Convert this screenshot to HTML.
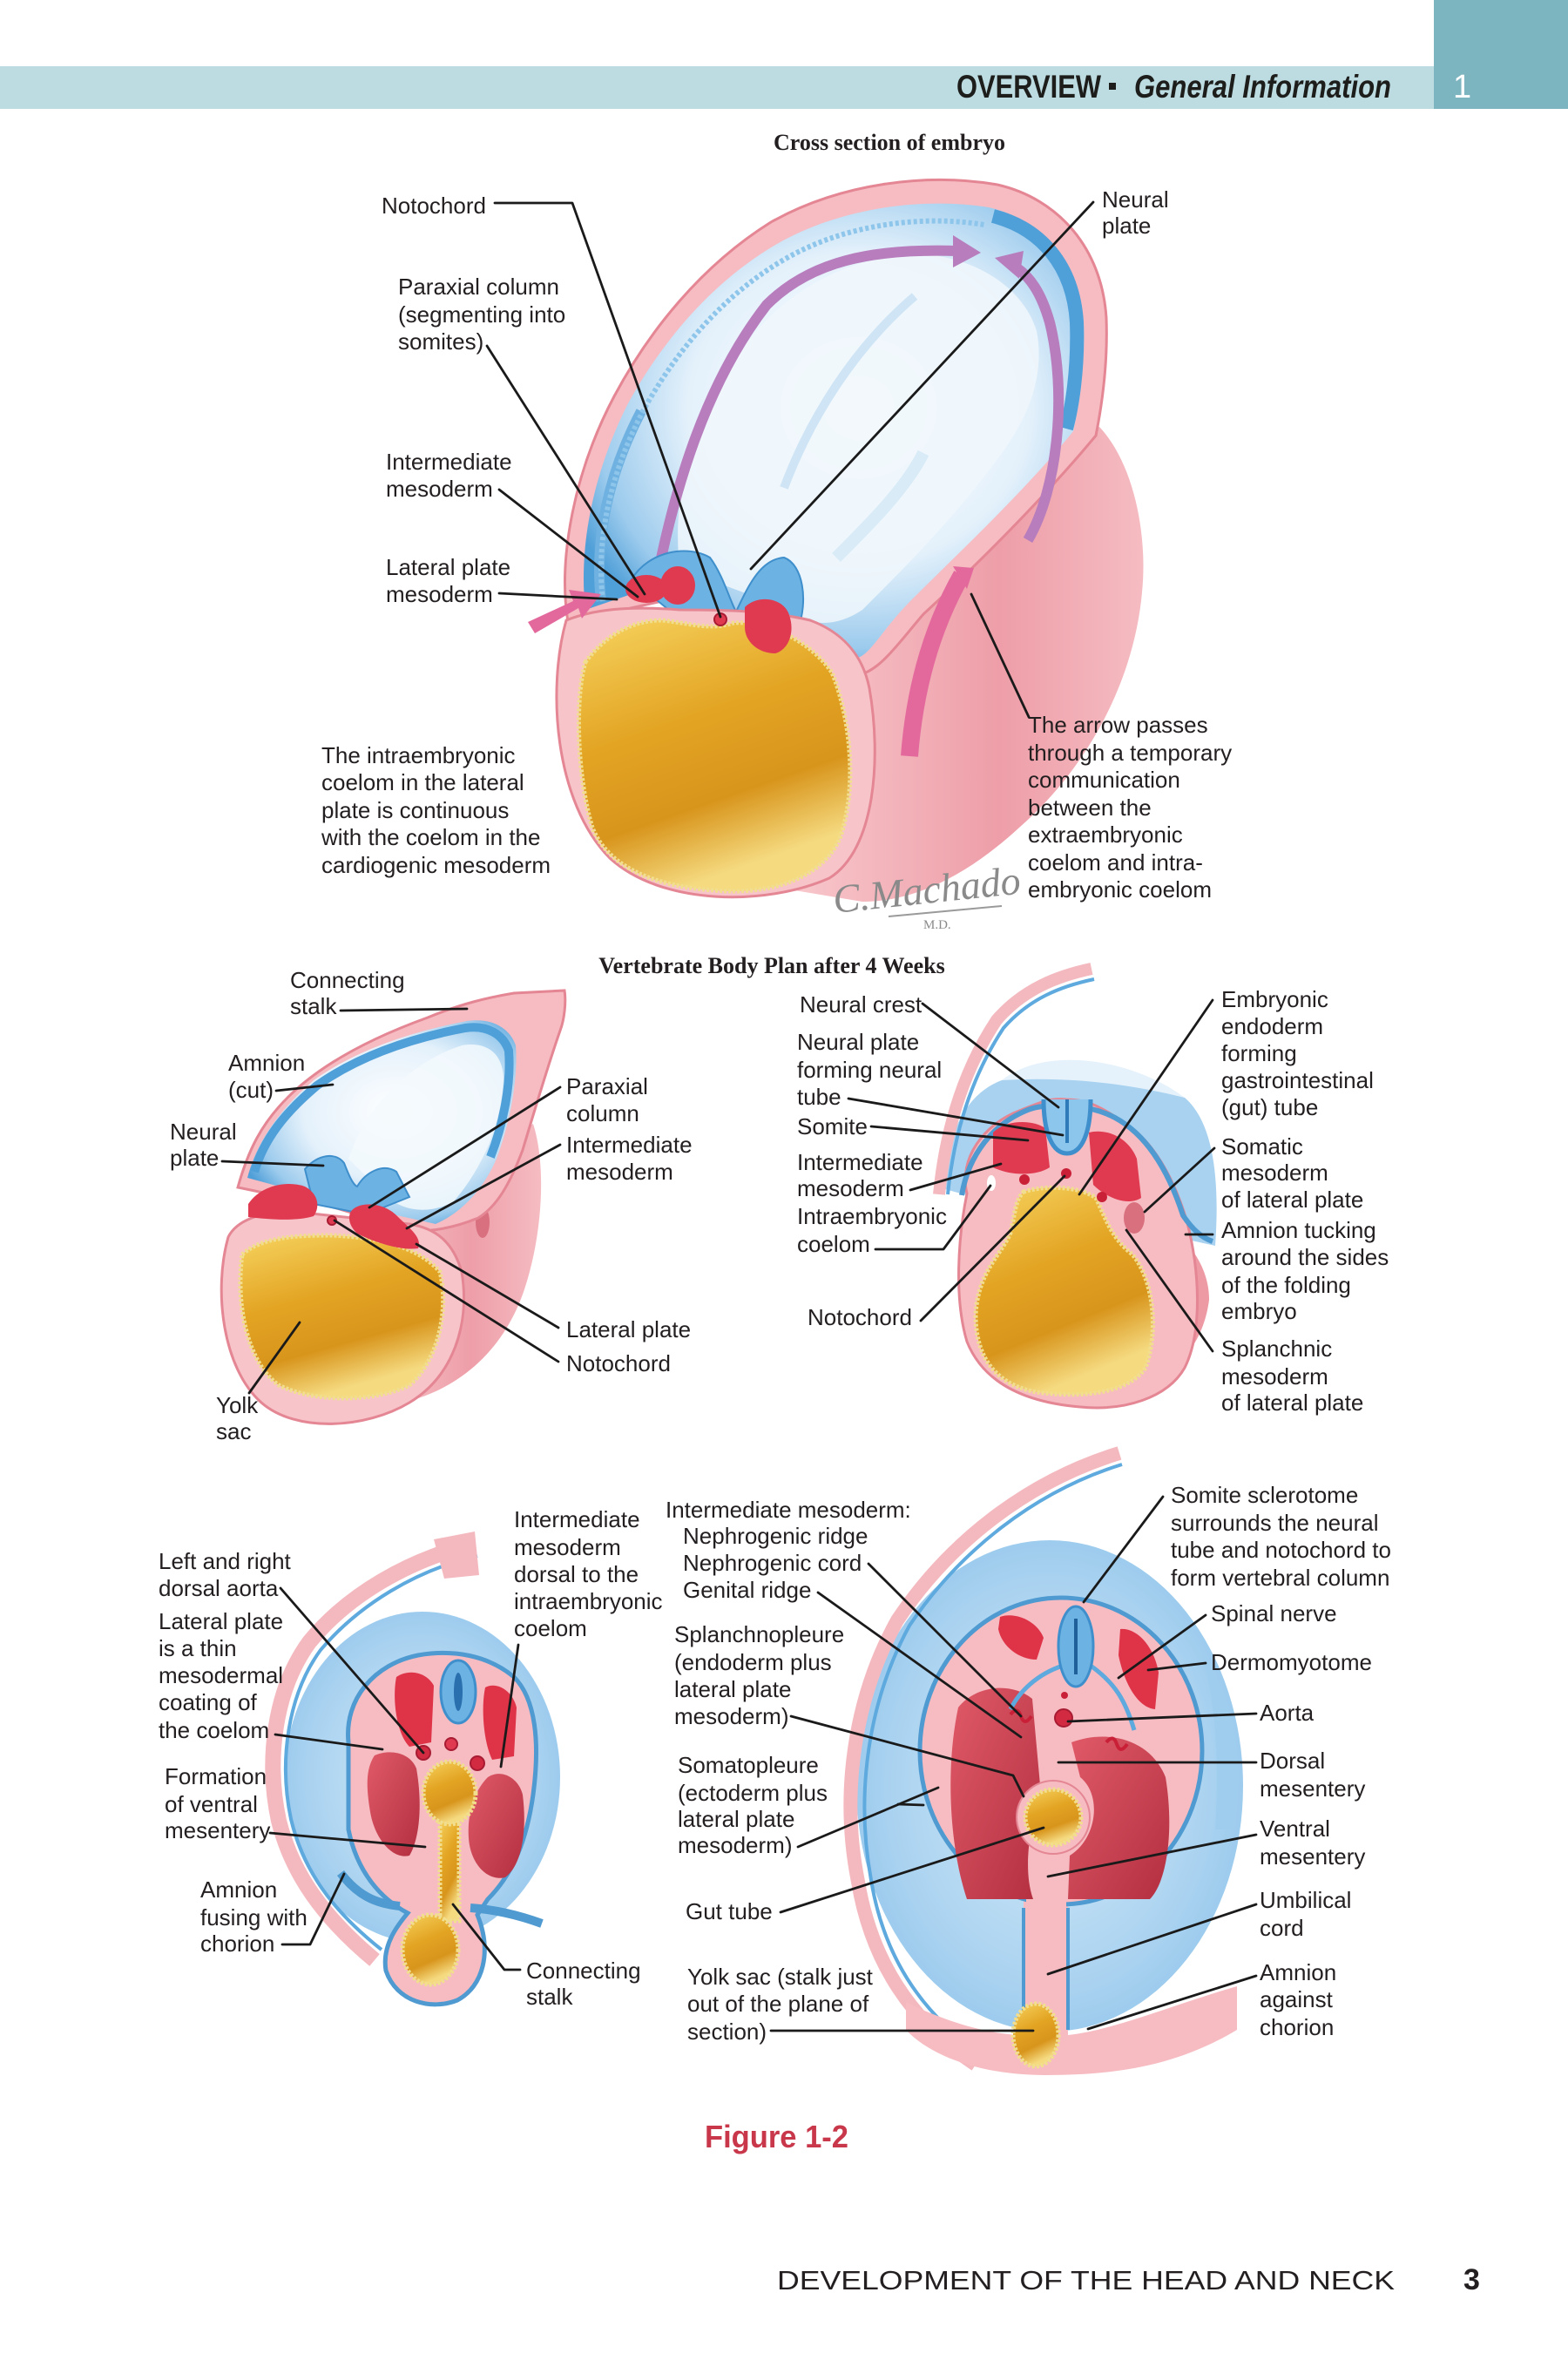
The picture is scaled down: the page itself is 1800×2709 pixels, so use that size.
<!DOCTYPE html>
<html><head><meta charset="utf-8">
<style>
html,body{margin:0;padding:0;background:#fff}
svg{display:block}
text{font-family:"Liberation Sans",sans-serif}
.l{font-size:26px;fill:#231f20}
.ln{stroke:#1a1a1a;stroke-width:2.8;fill:none;stroke-linejoin:round;stroke-linecap:round}
.pk{fill:#f6bcc2;stroke:#e48693;stroke-width:3}
.rd{fill:#e03a50}
.yk{fill:url(#yolk);stroke:#f1de8e;stroke-width:5;stroke-dasharray:3 2}
</style></head><body>
<svg width="1800" height="2709" viewBox="0 0 1800 2709" xmlns="http://www.w3.org/2000/svg">
<defs>
<linearGradient id="yolk" x1="0" y1="0" x2="0.35" y2="1">
<stop offset="0" stop-color="#f6d35f"/><stop offset="0.45" stop-color="#e3a423"/><stop offset="0.75" stop-color="#d8951c"/><stop offset="1" stop-color="#f5da80"/>
</linearGradient>
<radialGradient id="blueHood" cx="0.55" cy="0.45" r="0.62">
<stop offset="0" stop-color="#ffffff"/><stop offset="0.55" stop-color="#e4f1fb"/><stop offset="0.85" stop-color="#9ccbed"/><stop offset="1" stop-color="#4f9fd8"/>
</radialGradient>
<linearGradient id="pinkCyl" x1="0" y1="0" x2="1" y2="0">
<stop offset="0" stop-color="#f8c9cd"/><stop offset="0.6" stop-color="#ee9ea8"/><stop offset="1" stop-color="#f5bcc2"/>
</linearGradient>
<linearGradient id="redCav" x1="0" y1="0" x2="1" y2="1">
<stop offset="0" stop-color="#e05a68"/><stop offset="1" stop-color="#b32f40"/>
</linearGradient>
<radialGradient id="blueWash" cx="0.5" cy="0.5" r="0.6">
<stop offset="0" stop-color="#d4eaf8"/><stop offset="0.7" stop-color="#a9d2f0"/><stop offset="1" stop-color="#8fc3ea"/>
</radialGradient>
</defs>

<!-- HEADER -->
<rect x="0" y="76" width="1646" height="49" fill="#bcdce1"/>
<rect x="1646" y="0" width="154" height="125" fill="#7cb4c0"/>
<text x="1098" y="112" font-size="37" font-weight="bold" fill="#1d1d1b" textLength="166" lengthAdjust="spacingAndGlyphs">OVERVIEW</text>
<rect x="1273" y="95" width="8" height="8" fill="#1d1d1b"/>
<text x="1302" y="112" font-size="37" font-weight="bold" font-style="italic" fill="#1d1d1b" textLength="295" lengthAdjust="spacingAndGlyphs">General Information</text>
<text x="1668" y="112" font-size="38" fill="#ffffff">1</text>

<text x="1021" y="172" text-anchor="middle" font-weight="bold" font-size="26" fill="#231f20" style="font-family:'Liberation Serif',serif">Cross section of embryo</text>

<!-- ============ TOP ILLUSTRATION ============ -->
<path d="M900,700 C1000,650 1150,560 1262,490 C1300,530 1318,610 1311,680 C1302,780 1250,880 1170,950 C1110,1005 1050,1035 990,1035 L900,1020 Z" fill="url(#pinkCyl)"/>
<path d="M652,714 C640,640 660,540 705,455 C745,380 805,305 885,255 C965,210 1065,198 1145,212 C1215,228 1265,285 1270,365 C1272,420 1264,470 1258,500 C1200,570 1120,650 1060,705 C1030,740 1010,770 985,775 C955,780 930,760 905,735 L850,720 L760,690 Z" class="pk"/>
<path d="M672,700 C664,630 680,545 720,465 C758,395 815,325 892,280 C965,238 1060,226 1135,238 C1195,252 1240,300 1244,370 C1246,425 1238,470 1232,495 C1180,560 1100,635 1045,690 C1015,720 1000,750 985,755 C965,758 950,745 930,728 L850,700 L760,670 Z" fill="url(#blueHood)"/>
<path d="M1140,248 C1195,262 1232,305 1236,370 C1238,425 1230,470 1224,492" fill="none" stroke="#4f9fd8" stroke-width="16"/>
<path d="M690,690 C682,620 698,545 736,472" fill="none" stroke="#6fb1e0" stroke-width="12"/>
<path d="M692,690 C684,620 700,545 738,472 C775,405 828,340 900,298 C968,258 1058,246 1130,258" fill="none" stroke="#8ec5ea" stroke-width="6" stroke-dasharray="4 3"/>
<path d="M780,650 C770,560 800,470 860,390 C910,325 990,290 1060,292 C1120,296 1175,330 1190,380 C1200,430 1180,480 1150,520 C1100,590 1040,650 990,700 C960,720 930,720 900,700 C860,680 820,670 780,650 Z" fill="#f0f7fc" opacity="0.85"/>
<path d="M900,560 C930,480 980,400 1050,340" stroke="#cfe5f5" stroke-width="10" fill="none"/>
<path d="M960,640 C1000,600 1040,560 1060,520" stroke="#d8ebf7" stroke-width="14" fill="none"/>
<!-- purple arrows -->
<path d="M755,660 C775,560 810,440 880,350 C930,300 1000,285 1098,288" stroke="#b77dbd" stroke-width="12" fill="none"/>
<polygon points="1094,270 1126,290 1094,307" fill="#b77dbd"/>
<path d="M1180,620 C1215,560 1225,450 1205,370 C1195,335 1182,318 1168,308" stroke="#b77dbd" stroke-width="12" fill="none"/>
<polygon points="1142,296 1175,288 1170,320" fill="#b77dbd"/>
<!-- neural plate ridge -->
<path d="M725,665 C745,632 790,625 815,640 C830,660 838,690 845,702 C858,675 872,642 900,640 C922,648 928,690 916,722 L860,722 L770,702 Z" fill="#6cb2e2" stroke="#3f8fcc" stroke-width="2"/>
<!-- front face ring -->
<path d="M650,712 C628,790 636,920 700,985 C760,1040 880,1040 952,1008 C1005,975 1012,870 998,790 C990,750 965,725 930,712 C880,700 820,700 780,700 C720,695 680,700 650,712 Z" fill="#f7c4c9" stroke="#e48693" stroke-width="3"/>
<path d="M672,760 C690,735 720,712 760,712 C790,715 815,724 842,715 C880,712 930,735 955,772 C975,820 985,900 965,960 C945,1010 880,1028 820,1022 C760,1018 700,1000 680,950 C662,890 660,800 672,760 Z" class="yk"/>
<!-- mesoderm -->
<ellipse cx="742" cy="676" rx="24" ry="16" class="rd"/>
<ellipse cx="778" cy="672" rx="20" ry="22" class="rd"/>
<path d="M855,697 C870,682 900,686 906,706 C913,726 905,746 890,750 C870,750 855,736 855,720 Z" class="rd"/>
<circle cx="827" cy="711" r="7" fill="#e03a50" stroke="#a81c33" stroke-width="2"/>
<!-- pink arrows -->
<path d="M606,714 L658,690 L653,677 L690,682 L668,710 L664,698 L614,727 Z" fill="#e3699d"/>
<path d="M1104,660 C1070,720 1050,790 1044,868" stroke="#e3699d" stroke-width="20" fill="none"/>
<polygon points="1094,650 1118,652 1110,676" fill="#e3699d"/>
<!-- signature -->
<text x="958" y="1048" font-size="46" font-style="italic" fill="#8a8a8a" style="font-family:'Liberation Serif',serif" transform="rotate(-6 958 1048)">C.Machado</text>
<line x1="1020" y1="1052" x2="1150" y2="1040" stroke="#9a9a9a" stroke-width="2"/>
<text x="1060" y="1066" font-size="15" fill="#8a8a8a" style="font-family:'Liberation Serif',serif">M.D.</text>

<!-- top labels -->
<text class="l" x="438" y="245">Notochord</text>
<text class="l"><tspan x="457" y="338">Paraxial column</tspan><tspan x="457" y="370">(segmenting into</tspan><tspan x="457" y="401">somites)</tspan></text>
<text class="l"><tspan x="443" y="539">Intermediate</tspan><tspan x="443" y="570">mesoderm</tspan></text>
<text class="l"><tspan x="443" y="660">Lateral plate</tspan><tspan x="443" y="691">mesoderm</tspan></text>
<text class="l"><tspan x="1265" y="238">Neural</tspan><tspan x="1265" y="268">plate</tspan></text>
<text class="l"><tspan x="369" y="876">The intraembryonic</tspan><tspan x="369" y="907">coelom in the lateral</tspan><tspan x="369" y="939">plate is continuous</tspan><tspan x="369" y="970">with the coelom in the</tspan><tspan x="369" y="1002">cardiogenic mesoderm</tspan></text>
<text class="l"><tspan x="1180" y="841">The arrow passes</tspan><tspan x="1180" y="873">through a temporary</tspan><tspan x="1180" y="904">communication</tspan><tspan x="1180" y="936">between the</tspan><tspan x="1180" y="967">extraembryonic</tspan><tspan x="1180" y="999">coelom and intra-</tspan><tspan x="1180" y="1030">embryonic coelom</tspan></text>
<polyline class="ln" points="568,233 657,233 827,708"/>
<line class="ln" x1="559" y1="397" x2="740" y2="682"/>
<line class="ln" x1="573" y1="562" x2="732" y2="685"/>
<line class="ln" x1="573" y1="681" x2="708" y2="688"/>
<line class="ln" x1="1255" y1="232" x2="862" y2="653"/>
<line class="ln" x1="1181" y1="823" x2="1115" y2="682"/>

<text x="886" y="1117" text-anchor="middle" font-weight="bold" font-size="26" fill="#231f20" style="font-family:'Liberation Serif',serif">Vertebrate Body Plan after 4 Weeks</text>

<!-- ============ MIDDLE LEFT ============ -->
<path d="M470,1385 C540,1335 590,1305 612,1290 C628,1340 622,1420 602,1480 C582,1540 540,1585 480,1605 L420,1605 Z" fill="url(#pinkCyl)"/>
<ellipse cx="554" cy="1403" rx="8" ry="18" fill="#d9707f"/>
<path d="M273,1363 C285,1320 300,1290 330,1260 C370,1220 430,1190 491,1168 C530,1152 560,1145 590,1140 L648,1137 C650,1150 648,1170 643,1183 C630,1220 615,1270 600,1320 C585,1360 570,1385 549,1398 C520,1410 490,1415 470,1412 L380,1385 Z" class="pk"/>
<path d="M284,1352 C295,1310 320,1275 360,1240 C410,1205 470,1185 536,1172 C565,1168 585,1180 592,1200 C595,1240 585,1290 570,1330 C555,1365 530,1392 500,1405 L380,1378 Z" fill="url(#blueHood)"/>
<path d="M292,1345 C303,1308 326,1278 364,1246 C412,1212 470,1192 534,1180 C560,1176 578,1188 584,1206 C587,1244 578,1290 563,1328" fill="none" stroke="#4f9fd8" stroke-width="10"/>
<path d="M400,1330 C420,1270 470,1220 530,1200 C560,1195 578,1210 578,1240 C575,1290 555,1340 520,1380 C490,1395 460,1390 440,1370 Z" fill="#f3f9fd" opacity="0.85"/>
<path d="M350,1342 C365,1325 385,1322 395,1335 C400,1348 405,1360 410,1362 C420,1345 440,1335 455,1345 L470,1374 L420,1394 L360,1382 Z" fill="#6cb2e2" stroke="#3f8fcc" stroke-width="2"/>
<path d="M262,1420 C245,1480 255,1570 300,1610 C340,1645 420,1640 470,1610 C520,1580 540,1520 530,1460 C520,1425 500,1410 470,1405 L330,1390 C300,1392 272,1400 262,1420 Z" fill="#f7c4c9" stroke="#e48693" stroke-width="3"/>
<path d="M278,1440 C300,1420 340,1418 380,1418 C430,1420 480,1430 505,1460 C515,1500 505,1560 470,1590 C430,1610 360,1610 320,1590 C285,1565 270,1500 278,1440 Z" class="yk"/>
<path d="M285,1382 C300,1360 330,1355 350,1362 C365,1370 368,1385 360,1396 C340,1402 310,1400 285,1397 Z" class="rd"/>
<path d="M402,1392 C410,1378 440,1380 455,1395 C470,1410 485,1420 480,1433 C460,1436 430,1426 410,1416 C400,1406 400,1398 402,1392 Z" class="rd"/>
<circle cx="381" cy="1401" r="5" fill="#e03a50" stroke="#a81c33" stroke-width="2"/>

<text class="l"><tspan x="333" y="1134">Connecting</tspan><tspan x="333" y="1164">stalk</tspan></text>
<text class="l"><tspan x="262" y="1229">Amnion</tspan><tspan x="262" y="1260">(cut)</tspan></text>
<text class="l"><tspan x="195" y="1308">Neural</tspan><tspan x="195" y="1338">plate</tspan></text>
<text class="l"><tspan x="650" y="1256">Paraxial</tspan><tspan x="650" y="1287">column</tspan><tspan x="650" y="1323">Intermediate</tspan><tspan x="650" y="1354">mesoderm</tspan></text>
<text class="l"><tspan x="650" y="1535">Lateral plate</tspan><tspan x="650" y="1574">Notochord</tspan></text>
<text class="l"><tspan x="248" y="1622">Yolk</tspan><tspan x="248" y="1652">sac</tspan></text>
<line class="ln" x1="391" y1="1160" x2="536" y2="1158"/>
<line class="ln" x1="317" y1="1252" x2="382" y2="1245"/>
<line class="ln" x1="255" y1="1333" x2="371" y2="1338"/>
<line class="ln" x1="643" y1="1248" x2="424" y2="1386"/>
<line class="ln" x1="643" y1="1314" x2="467" y2="1410"/>
<line class="ln" x1="641" y1="1524" x2="478" y2="1428"/>
<line class="ln" x1="641" y1="1563" x2="384" y2="1401"/>
<line class="ln" x1="286" y1="1599" x2="344" y2="1518"/>

<!-- ============ MIDDLE RIGHT ============ -->
<path d="M1085,1365 C1085,1300 1110,1255 1150,1240 C1200,1225 1300,1235 1360,1260 C1395,1290 1400,1360 1395,1430 L1350,1420 C1320,1370 1290,1320 1250,1290 L1200,1285 C1160,1300 1130,1330 1110,1372 Z" fill="#9fcdee" opacity="0.9"/>
<path d="M1150,1240 C1200,1200 1300,1215 1360,1260 C1300,1245 1230,1235 1150,1240 Z" fill="#e6f2fb"/>
<path d="M1078,1371 C1085,1300 1105,1230 1144,1171 C1175,1135 1215,1120 1253,1112" fill="none" stroke="#f3b9bf" stroke-width="14"/>
<path d="M1088,1371 C1095,1302 1115,1236 1152,1180 C1182,1146 1218,1132 1256,1124" fill="none" stroke="#5ea9dd" stroke-width="4"/>
<path d="M1330,1400 C1362,1420 1388,1452 1388,1492 C1383,1532 1362,1562 1340,1572 Z" fill="#ee9aa5"/>
<path d="M1110,1370 C1100,1330 1130,1290 1170,1275 C1195,1265 1205,1260 1224,1262 C1245,1262 1260,1268 1285,1285 C1320,1305 1345,1345 1362,1400 C1378,1460 1380,1530 1360,1570 C1340,1605 1290,1620 1240,1615 C1180,1610 1130,1590 1110,1540 C1095,1490 1100,1420 1110,1370 Z" class="pk"/>
<path d="M1104,1372 C1112,1325 1140,1290 1180,1274 C1200,1266 1248,1266 1280,1283 C1315,1302 1340,1340 1358,1395 C1368,1410 1378,1420 1392,1425" fill="none" stroke="#4f9ad0" stroke-width="6"/>
<path d="M1175,1368 C1200,1360 1240,1362 1258,1375 C1270,1400 1275,1420 1300,1440 C1325,1470 1330,1530 1315,1570 C1295,1600 1240,1605 1190,1598 C1145,1590 1120,1560 1120,1510 C1122,1460 1150,1440 1160,1415 C1165,1395 1165,1378 1175,1368 Z" class="yk"/>
<path d="M1140,1300 C1155,1285 1185,1285 1200,1295 L1205,1340 C1190,1350 1160,1350 1140,1340 Z" class="rd"/>
<path d="M1250,1300 C1270,1295 1295,1305 1305,1330 L1310,1375 C1295,1385 1270,1375 1255,1360 Z" class="rd"/>
<path d="M1198,1262 C1198,1300 1208,1324 1225,1324 C1242,1324 1252,1300 1252,1262" fill="#8cc6ec" stroke="#3f8fcc" stroke-width="5"/>
<path d="M1225,1262 L1225,1312" stroke="#2f7ab8" stroke-width="4"/>
<circle cx="1176" cy="1354" r="6" fill="#c92038"/>
<circle cx="1224" cy="1347" r="6" fill="#c92038"/>
<circle cx="1265" cy="1374" r="6" fill="#c92038"/>
<ellipse cx="1138" cy="1358" rx="5" ry="9" fill="#ffffff"/>
<ellipse cx="1302" cy="1398" rx="12" ry="18" fill="#d8707e"/>

<text class="l" x="918" y="1162">Neural crest</text>
<text class="l"><tspan x="915" y="1205">Neural plate</tspan><tspan x="915" y="1237">forming neural</tspan><tspan x="915" y="1268">tube</tspan></text>
<text class="l" x="915" y="1302">Somite</text>
<text class="l"><tspan x="915" y="1343">Intermediate</tspan><tspan x="915" y="1373">mesoderm</tspan></text>
<text class="l"><tspan x="915" y="1405">Intraembryonic</tspan><tspan x="915" y="1437">coelom</tspan></text>
<text class="l" x="927" y="1521">Notochord</text>
<text class="l"><tspan x="1402" y="1156">Embryonic</tspan><tspan x="1402" y="1187">endoderm</tspan><tspan x="1402" y="1218">forming</tspan><tspan x="1402" y="1249">gastrointestinal</tspan><tspan x="1402" y="1280">(gut) tube</tspan></text>
<text class="l"><tspan x="1402" y="1325">Somatic</tspan><tspan x="1402" y="1355">mesoderm</tspan><tspan x="1402" y="1386">of lateral plate</tspan></text>
<text class="l"><tspan x="1402" y="1421">Amnion tucking</tspan><tspan x="1402" y="1452">around the sides</tspan><tspan x="1402" y="1484">of the folding</tspan><tspan x="1402" y="1514">embryo</tspan></text>
<text class="l"><tspan x="1402" y="1557">Splanchnic</tspan><tspan x="1402" y="1589">mesoderm</tspan><tspan x="1402" y="1619">of lateral plate</tspan></text>
<line class="ln" x1="1059" y1="1152" x2="1215" y2="1271"/>
<line class="ln" x1="974" y1="1261" x2="1220" y2="1303"/>
<line class="ln" x1="1000" y1="1293" x2="1180" y2="1309"/>
<line class="ln" x1="1045" y1="1366" x2="1149" y2="1336"/>
<polyline class="ln" points="1005,1434 1083,1434 1137,1361"/>
<line class="ln" x1="1057" y1="1516" x2="1222" y2="1350"/>
<line class="ln" x1="1392" y1="1148" x2="1239" y2="1371"/>
<line class="ln" x1="1394" y1="1318" x2="1314" y2="1391"/>
<line class="ln" x1="1392" y1="1417" x2="1361" y2="1417"/>
<line class="ln" x1="1392" y1="1551" x2="1293" y2="1412"/>

<!-- ============ BOTTOM LEFT ============ -->
<ellipse cx="485" cy="2040" rx="158" ry="190" fill="url(#blueWash)"/>
<path d="M545,1772 C470,1790 400,1830 355,1885 C315,1940 305,2020 320,2090 C335,2150 370,2200 430,2250" fill="none" stroke="#f4b9bf" stroke-width="18"/>
<path d="M548,1786 C478,1802 412,1842 368,1894 C330,1946 320,2022 334,2088 C348,2146 380,2192 438,2238" fill="none" stroke="#5ea9dd" stroke-width="4"/>
<path d="M498,1767 L545,1758 L550,1808 L510,1812 Z" fill="#f4b9bf"/>
<path d="M400,2000 C395,1950 430,1910 480,1900 C520,1893 560,1900 590,1925 C615,1950 620,2000 612,2060 C605,2110 590,2150 560,2180 L548,2198 C565,2240 555,2280 525,2296 C495,2308 455,2298 443,2262 C438,2232 458,2208 468,2196 C438,2180 410,2150 400,2100 Z" fill="#f6bcc2" stroke="#4f9ad0" stroke-width="5"/>
<path d="M391,2150 C410,2175 430,2185 459,2188" stroke="#4f9ad0" stroke-width="10" fill="none"/>
<path d="M540,2190 C570,2192 600,2200 622,2208" stroke="#4f9ad0" stroke-width="10" fill="none"/>
<path d="M455,1925 C470,1915 490,1920 498,1935 L495,2000 L470,2005 C455,1990 450,1950 455,1925 Z" fill="#df3348"/>
<path d="M557,1937 C570,1930 588,1940 593,1960 L590,2016 L565,2020 C555,2000 552,1960 557,1937 Z" fill="#df3348"/>
<path d="M430,2015 C445,2008 470,2010 478,2030 C485,2070 482,2110 470,2130 C450,2135 430,2110 425,2080 C420,2050 420,2030 430,2015 Z" fill="url(#redCav)"/>
<path d="M560,2040 C575,2030 595,2040 600,2060 C605,2100 600,2140 580,2155 C560,2160 540,2140 538,2110 C536,2080 545,2055 560,2040 Z" fill="url(#redCav)"/>
<ellipse cx="526" cy="1942" rx="20" ry="36" fill="#6cb2e2" stroke="#3f8fcc" stroke-width="3"/>
<ellipse cx="526" cy="1942" rx="5" ry="22" fill="#2a6fae"/>
<circle cx="518" cy="2002" r="7" fill="#e03a50" stroke="#a81c33" stroke-width="2"/>
<circle cx="486" cy="2012" r="8" fill="#d22a40" stroke="#a81c33" stroke-width="2"/>
<circle cx="548" cy="2024" r="8" fill="#d22a40" stroke="#a81c33" stroke-width="2"/>
<rect x="505" y="2085" width="22" height="120" class="yk"/>
<ellipse cx="516" cy="2058" rx="30" ry="36" class="yk"/>
<ellipse cx="494" cy="2238" rx="32" ry="40" class="yk"/>

<text class="l"><tspan x="182" y="1801">Left and right</tspan><tspan x="182" y="1832">dorsal aorta</tspan><tspan x="182" y="1870">Lateral plate</tspan><tspan x="182" y="1901">is a thin</tspan><tspan x="182" y="1932">mesodermal</tspan><tspan x="182" y="1963">coating of</tspan><tspan x="182" y="1995">the coelom</tspan></text>
<text class="l"><tspan x="189" y="2048">Formation</tspan><tspan x="189" y="2080">of ventral</tspan><tspan x="189" y="2110">mesentery</tspan></text>
<text class="l"><tspan x="230" y="2178">Amnion</tspan><tspan x="230" y="2210">fusing with</tspan><tspan x="230" y="2240">chorion</tspan></text>
<text class="l"><tspan x="590" y="1753">Intermediate</tspan><tspan x="590" y="1785">mesoderm</tspan><tspan x="590" y="1816">dorsal to the</tspan><tspan x="590" y="1847">intraembryonic</tspan><tspan x="590" y="1878">coelom</tspan></text>
<text class="l"><tspan x="604" y="2271">Connecting</tspan><tspan x="604" y="2301">stalk</tspan></text>
<line class="ln" x1="322" y1="1823" x2="486" y2="2012"/>
<line class="ln" x1="316" y1="1991" x2="439" y2="2008"/>
<line class="ln" x1="310" y1="2104" x2="488" y2="2120"/>
<polyline class="ln" points="324,2232 356,2232 395,2151"/>
<line class="ln" x1="595" y1="1888" x2="575" y2="2028"/>
<polyline class="ln" points="597,2261 579,2261 520,2186"/>

<!-- ============ BOTTOM RIGHT ============ -->
<ellipse cx="1205" cy="2050" rx="222" ry="282" fill="url(#blueWash)"/>
<path d="M1380,1900 C1420,1950 1430,2030 1415,2100 L1395,2100 C1400,2020 1395,1950 1380,1900 Z" fill="#9fcdee"/>
<path d="M1285,1668 C1180,1700 1090,1770 1030,1860 C980,1950 965,2060 985,2160 C1000,2250 1045,2320 1120,2370" fill="none" stroke="#f4b9bf" stroke-width="16"/>
<path d="M1288,1681 C1188,1712 1102,1780 1044,1866 C996,1954 982,2060 1000,2158 C1014,2244 1056,2310 1126,2358" fill="none" stroke="#5ea9dd" stroke-width="4"/>
<path d="M1040,2298 C1100,2328 1150,2336 1175,2336 L1175,2180 L1226,2180 L1226,2336 C1280,2330 1350,2300 1420,2280 L1420,2330 C1350,2372 1280,2382 1200,2382 C1130,2382 1070,2362 1040,2330 Z" fill="#f6bcc2"/>
<path d="M1175,2190 L1175,2330 M1226,2190 L1226,2330" stroke="#4f9ad0" stroke-width="4"/>
<ellipse cx="1218" cy="2010" rx="162" ry="176" fill="#f6bcc2" stroke="#4f9ad0" stroke-width="5"/>
<rect x="1178" y="2150" width="46" height="60" fill="#f6bcc2"/>
<path d="M1100,1960 C1120,1935 1160,1930 1185,1950 L1195,2060 C1180,2100 1175,2150 1186,2180 L1110,2180 C1090,2120 1085,2030 1100,1960 Z" fill="url(#redCav)"/>
<path d="M1230,2000 C1270,1985 1320,1995 1338,2040 C1348,2100 1340,2160 1320,2180 L1226,2180 L1228,2130 C1260,2110 1265,2060 1240,2040 Z" fill="url(#redCav)"/>
<path d="M1148,1856 C1165,1850 1190,1860 1198,1880 L1190,1905 C1170,1905 1150,1890 1146,1870 Z" fill="#df3348"/>
<path d="M1286,1870 C1305,1868 1325,1890 1330,1920 L1326,1962 C1305,1960 1290,1930 1284,1900 Z" fill="#df3348"/>
<path d="M1220,1912 C1190,1922 1170,1942 1160,1962 M1252,1912 C1280,1932 1292,1952 1302,1986" stroke="#5ea9dd" stroke-width="5" fill="none"/>
<ellipse cx="1235" cy="1890" rx="20" ry="46" fill="#6cb2e2" stroke="#3f8fcc" stroke-width="3"/>
<line x1="1235" y1="1858" x2="1235" y2="1922" stroke="#1f5f9a" stroke-width="4"/>
<circle cx="1221" cy="1972" r="10" fill="#d22a40" stroke="#a81c33" stroke-width="2"/>
<circle cx="1222" cy="1946" r="4" fill="#c92038"/>
<path d="M1160,1968 q8,-10 12,2 q4,12 12,0" stroke="#c92038" stroke-width="4" fill="none"/>
<path d="M1270,2000 q8,-10 12,2 q4,12 12,0" stroke="#c92038" stroke-width="4" fill="none"/>
<circle cx="1209" cy="2086" r="42" fill="#f6bcc2" stroke="#e48693" stroke-width="2"/>
<circle cx="1209" cy="2086" r="32" class="yk"/>
<ellipse cx="1189" cy="2336" rx="26" ry="36" class="yk"/>

<text class="l" x="764" y="1742">Intermediate mesoderm:</text>
<text class="l"><tspan x="784" y="1772">Nephrogenic ridge</tspan><tspan x="784" y="1803">Nephrogenic cord</tspan><tspan x="784" y="1834">Genital ridge</tspan></text>
<text class="l"><tspan x="774" y="1885">Splanchnopleure</tspan><tspan x="774" y="1917">(endoderm plus</tspan><tspan x="774" y="1948">lateral plate</tspan><tspan x="774" y="1979">mesoderm)</tspan></text>
<text class="l"><tspan x="778" y="2035">Somatopleure</tspan><tspan x="778" y="2067">(ectoderm plus</tspan><tspan x="778" y="2097">lateral plate</tspan><tspan x="778" y="2127">mesoderm)</tspan></text>
<text class="l" x="787" y="2203">Gut tube</text>
<text class="l"><tspan x="789" y="2278">Yolk sac (stalk just</tspan><tspan x="789" y="2309">out of the plane of</tspan><tspan x="789" y="2341">section)</tspan></text>
<text class="l"><tspan x="1344" y="1725">Somite sclerotome</tspan><tspan x="1344" y="1757">surrounds the neural</tspan><tspan x="1344" y="1788">tube and notochord to</tspan><tspan x="1344" y="1820">form vertebral column</tspan></text>
<text class="l" x="1390" y="1861">Spinal nerve</text>
<text class="l" x="1390" y="1917">Dermomyotome</text>
<text class="l" x="1446" y="1975">Aorta</text>
<text class="l"><tspan x="1446" y="2030">Dorsal</tspan><tspan x="1446" y="2062">mesentery</tspan></text>
<text class="l"><tspan x="1446" y="2108">Ventral</tspan><tspan x="1446" y="2140">mesentery</tspan></text>
<text class="l"><tspan x="1446" y="2190">Umbilical</tspan><tspan x="1446" y="2222">cord</tspan></text>
<text class="l"><tspan x="1446" y="2273">Amnion</tspan><tspan x="1446" y="2304">against</tspan><tspan x="1446" y="2336">chorion</tspan></text>
<line class="ln" x1="997" y1="1795" x2="1172" y2="1970"/>
<line class="ln" x1="939" y1="1828" x2="1172" y2="1994"/>
<polyline class="ln" points="908,1970 1163,2038 1175,2062"/>
<line class="ln" x1="916" y1="2120" x2="1077" y2="2052"/>
<line class="ln" x1="1031" y1="2071" x2="1060" y2="2072"/>
<line class="ln" x1="896" y1="2195" x2="1198" y2="2098"/>
<line class="ln" x1="885" y1="2331" x2="1186" y2="2331"/>
<line class="ln" x1="1335" y1="1718" x2="1244" y2="1839"/>
<line class="ln" x1="1384" y1="1854" x2="1284" y2="1926"/>
<line class="ln" x1="1384" y1="1909" x2="1318" y2="1917"/>
<line class="ln" x1="1442" y1="1967" x2="1226" y2="1976"/>
<line class="ln" x1="1442" y1="2023" x2="1215" y2="2023"/>
<line class="ln" x1="1442" y1="2106" x2="1203" y2="2154"/>
<line class="ln" x1="1442" y1="2186" x2="1203" y2="2266"/>
<line class="ln" x1="1442" y1="2268" x2="1249" y2="2329"/>

<!-- FIGURE + FOOTER -->
<text x="809" y="2465" font-size="36" font-weight="bold" fill="#c8374a" textLength="165" lengthAdjust="spacingAndGlyphs">Figure 1-2</text>
<text x="892" y="2628" font-size="31" fill="#231f20" textLength="709" lengthAdjust="spacingAndGlyphs">DEVELOPMENT OF THE HEAD AND NECK</text>
<text x="1680" y="2628" font-size="34" font-weight="bold" fill="#231f20">3</text>
</svg>
</body></html>
